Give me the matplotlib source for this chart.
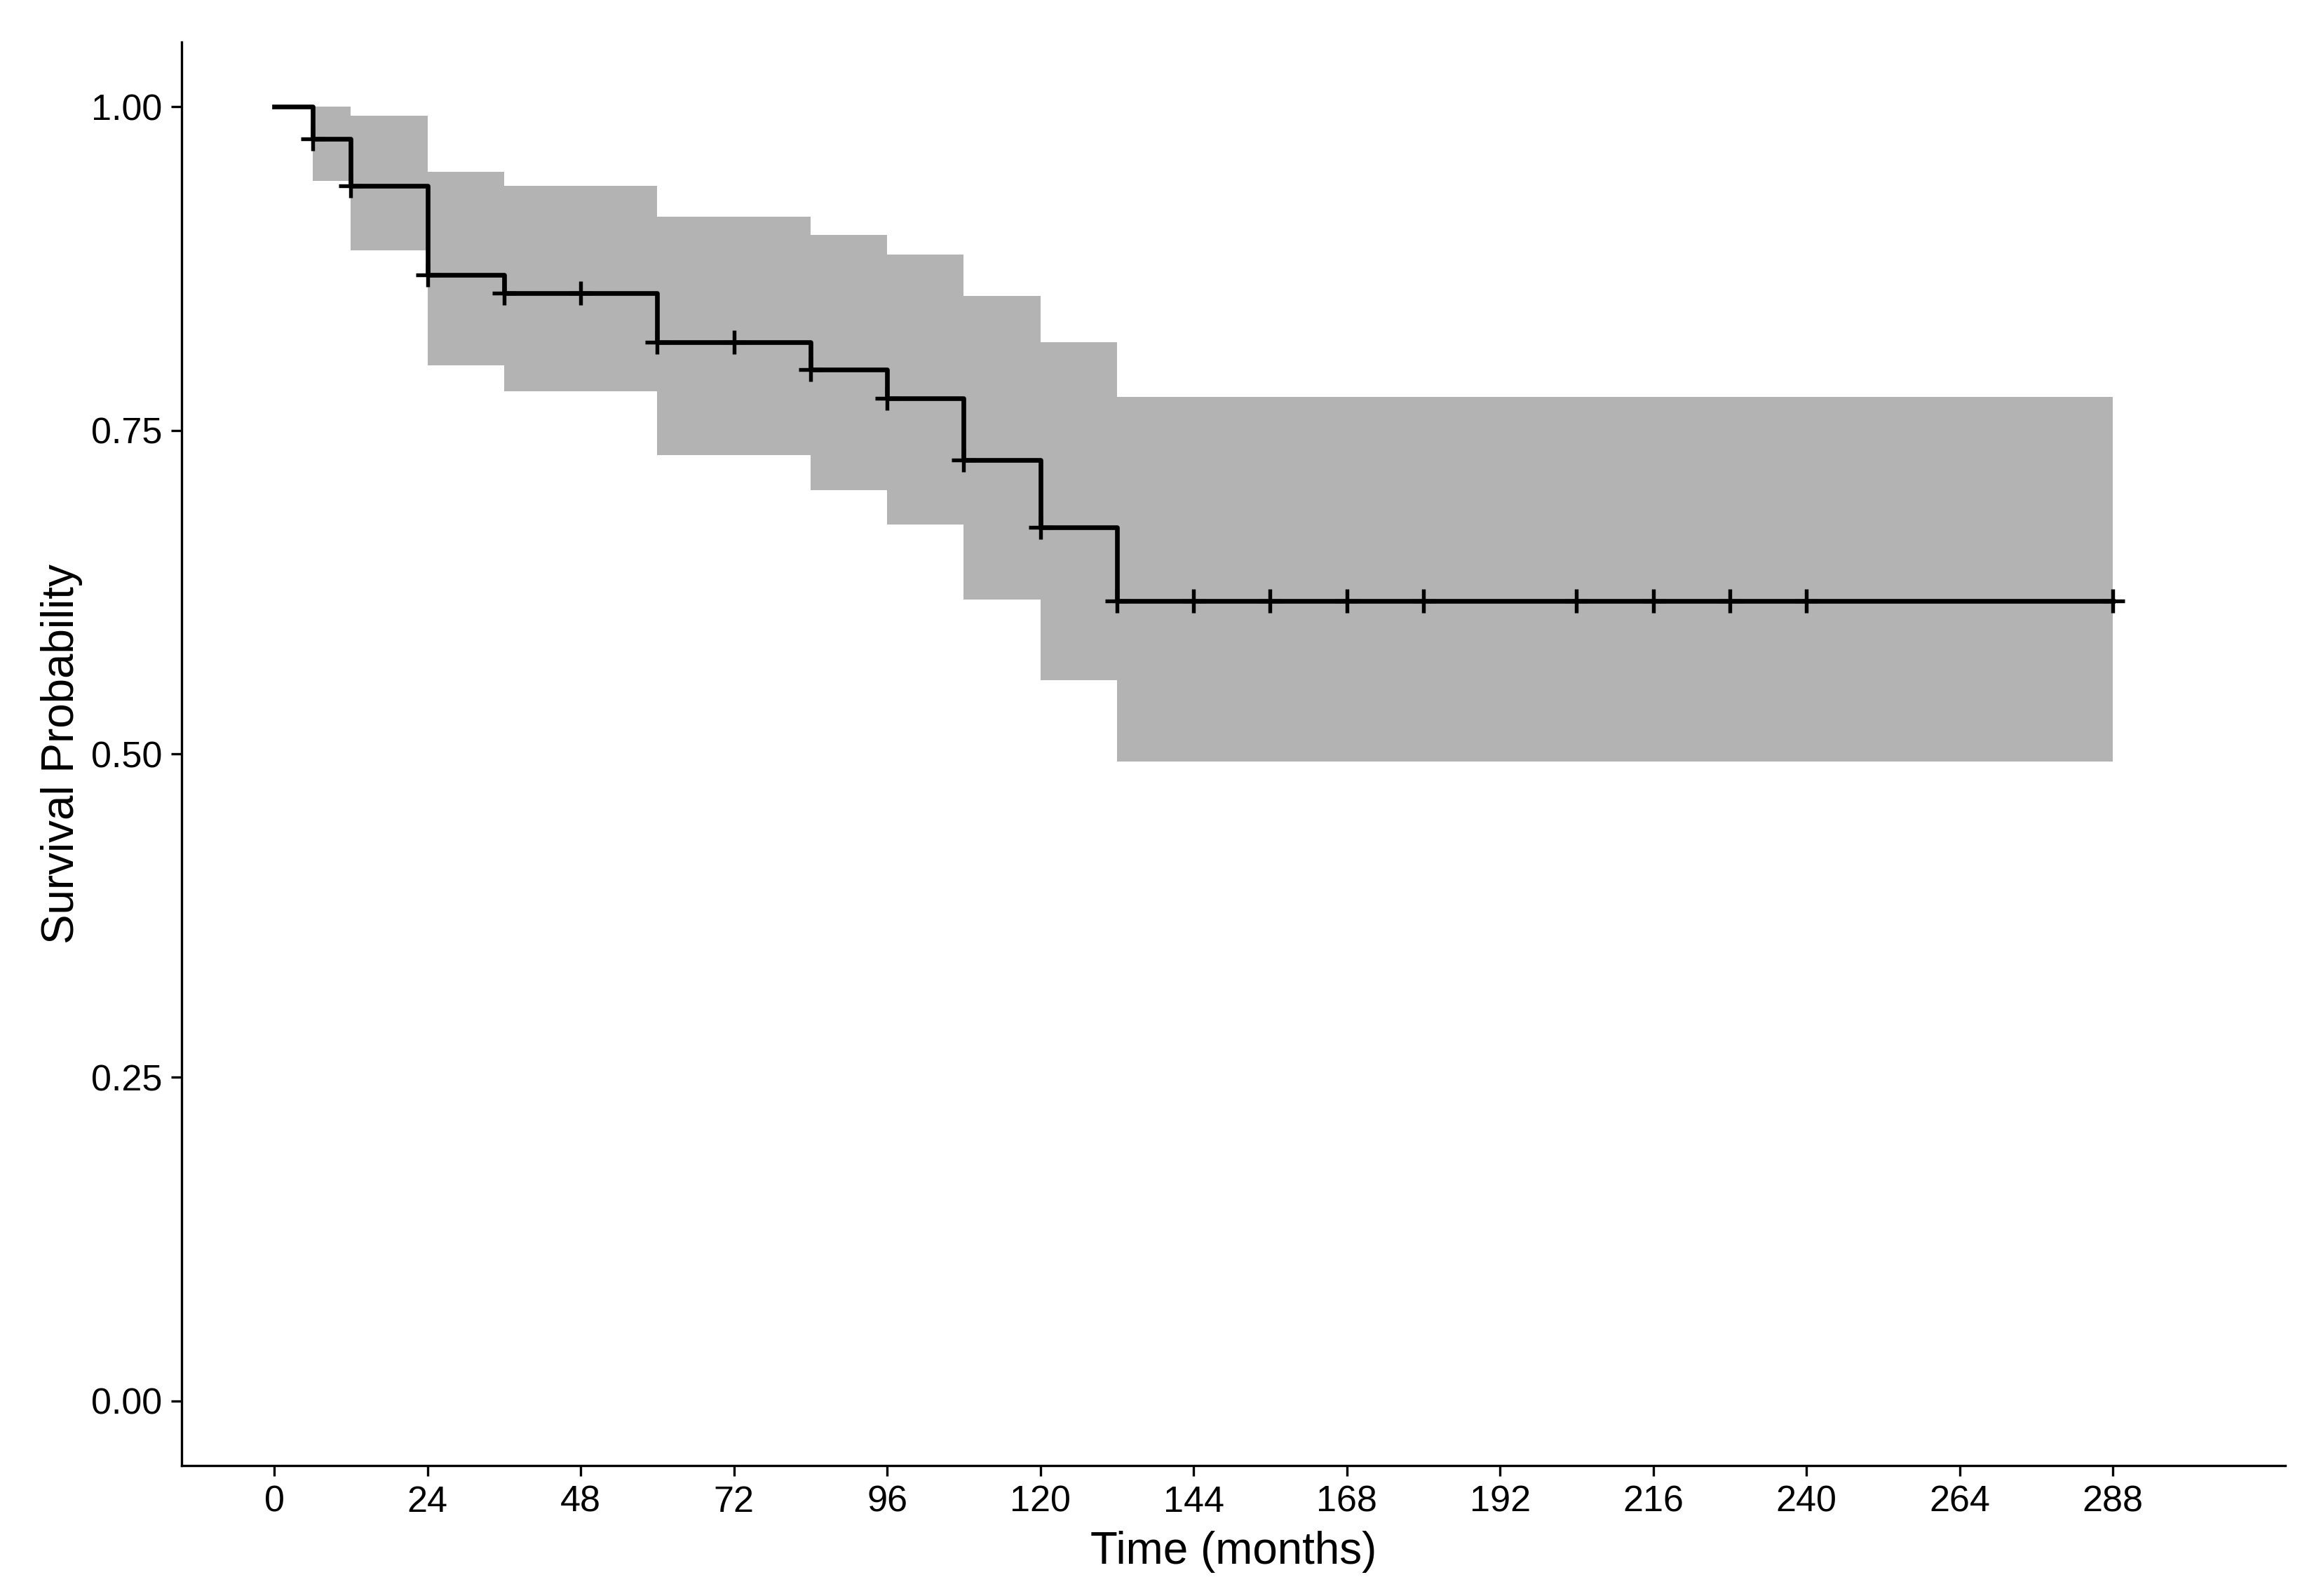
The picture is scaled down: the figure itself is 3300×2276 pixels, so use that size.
import numpy as np
import matplotlib.pyplot as plt

plt.rcParams['font.family'] = ['Liberation Sans', 'DejaVu Sans']

# Kaplan-Meier estimate (months)
time = [0, 6, 12, 24, 36, 60, 84, 96, 108, 120, 132, 288]
surv = [1.0, 0.975, 0.939, 0.870, 0.856, 0.818, 0.797, 0.775, 0.727, 0.675, 0.618, 0.618]
upper = [1.0, 1.0, 0.993, 0.950, 0.939, 0.915, 0.901, 0.886, 0.854, 0.818, 0.776, 0.776]
lower = [1.0, 0.943, 0.889, 0.800, 0.780, 0.731, 0.704, 0.677, 0.619, 0.557, 0.494, 0.494]

# censoring marks
censor_times = [6, 12, 24, 36, 48, 60, 72, 84, 96, 108, 120, 132, 144, 156,
                168, 180, 204, 216, 228, 240, 288]

xticks = list(range(0, 289, 24))
yticks = [0.0, 0.25, 0.50, 0.75, 1.0]

fig = plt.figure(figsize=(11, 2276 / 300), dpi=300)
ax = fig.add_axes([0.0785, 0.0817, 0.9091, 0.8919])

ax.fill_between(time, lower, upper, step='post', color='#b3b3b3', linewidth=0)
ax.step(time, surv, where='post', color='black', linewidth=1.6)

# y value of the curve at each censor time
idx = np.searchsorted(time, censor_times, side='right') - 1
censor_surv = np.array(surv)[idx]
ax.plot(censor_times, censor_surv, linestyle='none', marker='+', color='black',
        markersize=8, markeredgewidth=1.3)

ax.set_xlim(-14.5, 315)
ax.set_ylim(-0.05, 1.05)
ax.set_xticks(xticks)
ax.set_yticks(yticks)
ax.set_yticklabels(['%.2f' % v for v in yticks])

for s in ['top', 'right']:
    ax.spines[s].set_visible(False)
for s in ['left', 'bottom']:
    ax.spines[s].set_linewidth(0.8)
ax.tick_params(axis='both', labelsize=12.5, length=3.6, width=0.8, pad=3, colors='black')

ax.set_xlabel('Time (months)', fontsize=15.3, labelpad=4)
ax.set_ylabel('Survival Probability', fontsize=15.3, labelpad=3)

fig.savefig('out.png', dpi=300)
